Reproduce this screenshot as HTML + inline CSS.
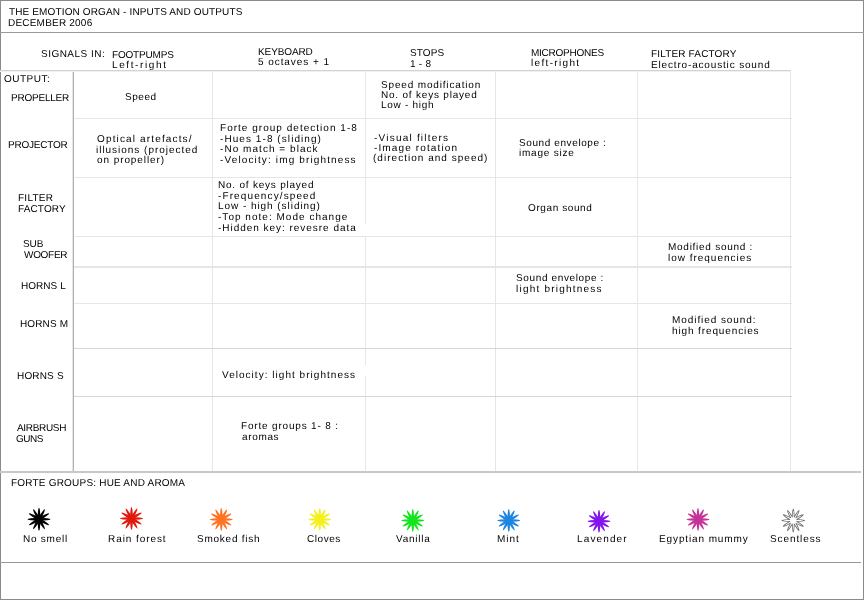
<!DOCTYPE html>
<html><head><meta charset="utf-8"><style>
html,body{margin:0;padding:0;background:#fff;width:864px;height:600px;overflow:hidden}
.l{position:absolute}
.t{position:absolute;font-family:"Liberation Sans",sans-serif;font-size:10px;line-height:12px;white-space:pre;color:#000;text-rendering:geometricPrecision;will-change:transform}
</style></head><body>
<div class="l" style="left:0px;top:0px;width:864px;height:1px;background:#8a8a8a"></div>
<div class="l" style="left:0px;top:599px;width:864px;height:1px;background:#8a8a8a"></div>
<div class="l" style="left:0px;top:0px;width:1px;height:600px;background:#8a8a8a"></div>
<div class="l" style="left:863px;top:0px;width:1px;height:600px;background:#8a8a8a"></div>
<div class="l" style="left:0px;top:32px;width:864px;height:1px;background:#999"></div>
<div class="l" style="left:0px;top:70px;width:791px;height:1px;background:#d2d2d2"></div>
<div class="l" style="left:0px;top:71px;width:791px;height:1px;background:#f0f0f0"></div>
<div class="l" style="left:0px;top:471px;width:861px;height:2px;background:#c8c8c8"></div>
<div class="l" style="left:0px;top:562px;width:861px;height:1px;background:#999"></div>
<div class="l" style="left:72px;top:72px;width:1px;height:399px;background:#e6e6e6"></div>
<div class="l" style="left:73px;top:72px;width:1px;height:399px;background:#b0b0b0"></div>
<div class="l" style="left:212px;top:72px;width:1px;height:399px;background:#e6e6e6"></div>
<div class="l" style="left:365px;top:72px;width:1px;height:399px;background:#e6e6e6"></div>
<div class="l" style="left:495px;top:72px;width:1px;height:399px;background:#e6e6e6"></div>
<div class="l" style="left:637px;top:72px;width:1px;height:399px;background:#e6e6e6"></div>
<div class="l" style="left:790px;top:72px;width:1px;height:399px;background:#e6e6e6"></div>
<div class="l" style="left:74px;top:118px;width:718px;height:1px;background:#e6e6e6"></div>
<div class="l" style="left:74px;top:177px;width:718px;height:1px;background:#e6e6e6"></div>
<div class="l" style="left:74px;top:236px;width:718px;height:1px;background:#e6e6e6"></div>
<div class="l" style="left:74px;top:266px;width:718px;height:1px;background:#e6e6e6"></div>
<div class="l" style="left:74px;top:303px;width:718px;height:1px;background:#e6e6e6"></div>
<div class="l" style="left:74px;top:267px;width:718px;height:1px;background:#e6e6e6"></div>
<div class="l" style="left:74px;top:348px;width:718px;height:1px;background:#d6d6d6"></div>
<div class="l" style="left:74px;top:396px;width:718px;height:1px;background:#d6d6d6"></div>
<div class="l" style="left:360px;top:224px;width:8px;height:12px;background:#fff"></div>
<div class="l" style="left:360px;top:365px;width:8px;height:11px;background:#fff"></div>
<div class="t" style="left:9.0px;top:7px;letter-spacing:0.135px">THE EMOTION ORGAN - INPUTS AND OUTPUTS</div>
<div class="t" style="left:8.0px;top:18px;letter-spacing:0.208px">DECEMBER 2006</div>
<div class="t" style="left:41.0px;top:49px;letter-spacing:0.475px">SIGNALS IN:</div>
<div class="t" style="left:111.5px;top:50px;letter-spacing:-0.188px">FOOTPUMPS</div>
<div class="t" style="left:111.5px;top:60px;letter-spacing:1.611px">Left-right</div>
<div class="t" style="left:257.5px;top:47px;letter-spacing:-0.107px">KEYBOARD</div>
<div class="t" style="left:257.5px;top:57px;letter-spacing:0.938px">5 octaves + 1</div>
<div class="t" style="left:409.75px;top:48px;letter-spacing:0.125px">STOPS</div>
<div class="t" style="left:409.75px;top:59px;letter-spacing:0.25px">1 - 8</div>
<div class="t" style="left:530.75px;top:48px;letter-spacing:-0.25px">MICROPHONES</div>
<div class="t" style="left:530.75px;top:58px;letter-spacing:1.333px">left-right</div>
<div class="t" style="left:650.75px;top:49px;letter-spacing:0.158px">FILTER FACTORY</div>
<div class="t" style="left:650.75px;top:60px;letter-spacing:0.836px">Electro-acoustic sound</div>
<div class="t" style="left:3.75px;top:74px;letter-spacing:0.5px">OUTPUT:</div>
<div class="t" style="left:10.75px;top:93px;letter-spacing:-0.219px">PROPELLER</div>
<div class="t" style="left:124.75px;top:92px;letter-spacing:0.562px">Speed</div>
<div class="t" style="left:380.75px;top:80px;letter-spacing:0.838px">Speed modification</div>
<div class="t" style="left:380.75px;top:90px;letter-spacing:0.794px">No. of keys played</div>
<div class="t" style="left:380.75px;top:100px;letter-spacing:0.722px">Low - high</div>
<div class="t" style="left:7.75px;top:140px;letter-spacing:-0.219px">PROJECTOR</div>
<div class="t" style="left:96.75px;top:134px;letter-spacing:1.147px">Optical artefacts/</div>
<div class="t" style="left:95.75px;top:145px;letter-spacing:0.974px">illusions (projected</div>
<div class="t" style="left:96.75px;top:155px;letter-spacing:0.917px">on propeller)</div>
<div class="t" style="left:219.75px;top:123px;letter-spacing:1.021px">Forte group detection 1-8</div>
<div class="t" style="left:219.75px;top:134px;letter-spacing:1.069px">-Hues 1-8 (sliding)</div>
<div class="t" style="left:219.75px;top:144px;letter-spacing:1.047px">-No match = black</div>
<div class="t" style="left:219.75px;top:155px;letter-spacing:1.135px">-Velocity: img brightness</div>
<div class="t" style="left:374.0px;top:133px;letter-spacing:1.214px">-Visual filters</div>
<div class="t" style="left:374.0px;top:143px;letter-spacing:1.125px">-Image rotation</div>
<div class="t" style="left:373.25px;top:153px;letter-spacing:1.025px">(direction and speed)</div>
<div class="t" style="left:519.0px;top:138px;letter-spacing:0.6px">Sound envelope :</div>
<div class="t" style="left:519.0px;top:148px;letter-spacing:0.778px">image size</div>
<div class="t" style="left:17.75px;top:193px;letter-spacing:0.25px">FILTER</div>
<div class="t" style="left:17.75px;top:204px;letter-spacing:0.125px">FACTORY</div>
<div class="t" style="left:217.75px;top:180px;letter-spacing:0.779px">No. of keys played</div>
<div class="t" style="left:217.75px;top:191px;letter-spacing:1.117px">-Frequency/speed</div>
<div class="t" style="left:217.75px;top:201px;letter-spacing:0.947px">Low - high (sliding)</div>
<div class="t" style="left:217.75px;top:212px;letter-spacing:1.024px">-Top note: Mode change</div>
<div class="t" style="left:217.75px;top:223px;letter-spacing:0.969px">-Hidden key: revesre data</div>
<div class="t" style="left:527.5px;top:203px;letter-spacing:0.6px">Organ sound</div>
<div class="t" style="left:22.75px;top:239px;letter-spacing:-0.125px">SUB</div>
<div class="t" style="left:23.75px;top:250px;letter-spacing:-0.3px">WOOFER</div>
<div class="t" style="left:667.75px;top:242px;letter-spacing:0.73px">Modified sound :</div>
<div class="t" style="left:667.75px;top:253px;letter-spacing:0.982px">low frequencies</div>
<div class="t" style="left:20.75px;top:281px;letter-spacing:0.042px">HORNS L</div>
<div class="t" style="left:516.0px;top:273px;letter-spacing:0.633px">Sound envelope :</div>
<div class="t" style="left:516.0px;top:284px;letter-spacing:1.217px">light brightness</div>
<div class="t" style="left:19.75px;top:319px;letter-spacing:0.125px">HORNS M</div>
<div class="t" style="left:671.8px;top:315px;letter-spacing:0.929px">Modified sound:</div>
<div class="t" style="left:671.8px;top:326px;letter-spacing:0.88px">high frequencies</div>
<div class="t" style="left:16.5px;top:371px;letter-spacing:0.167px">HORNS S</div>
<div class="t" style="left:221.75px;top:370px;letter-spacing:1.03px">Velocity: light brightness</div>
<div class="t" style="left:16.75px;top:423px;letter-spacing:-0.321px">AIRBRUSH</div>
<div class="t" style="left:15.75px;top:434px;letter-spacing:-0.5px">GUNS</div>
<div class="t" style="left:240.75px;top:421px;letter-spacing:0.819px">Forte groups 1- 8 :</div>
<div class="t" style="left:241.75px;top:432px;letter-spacing:0.65px">aromas</div>
<div class="t" style="left:10.75px;top:478px;letter-spacing:0.202px">FORTE GROUPS: HUE AND AROMA</div>
<div class="t" style="left:23.25px;top:534px;letter-spacing:0.75px">No smell</div>
<div class="t" style="left:107.75px;top:534px;letter-spacing:0.925px">Rain forest</div>
<div class="t" style="left:196.8px;top:534px;letter-spacing:0.76px">Smoked fish</div>
<div class="t" style="left:306.6px;top:534px;letter-spacing:0.56px">Cloves</div>
<div class="t" style="left:396.25px;top:534px;letter-spacing:0.742px">Vanilla</div>
<div class="t" style="left:496.9px;top:534px;letter-spacing:0.95px">Mint</div>
<div class="t" style="left:577.3px;top:534px;letter-spacing:1.136px">Lavender</div>
<div class="t" style="left:659.4px;top:534px;letter-spacing:0.885px">Egyptian mummy</div>
<div class="t" style="left:769.8px;top:534px;letter-spacing:0.9px">Scentless</div>
<svg class="l" style="left:0;top:0" width="864" height="600" viewBox="0 0 864 600"><g transform="translate(39,519.25)" fill="#000"><circle r="3.6"/><ellipse rx="11.6" ry="1.4" transform="rotate(0)"/><ellipse rx="11.6" ry="1.4" transform="rotate(30)"/><ellipse rx="11.6" ry="1.4" transform="rotate(60)"/><ellipse rx="11.6" ry="1.4" transform="rotate(90)"/><ellipse rx="11.6" ry="1.4" transform="rotate(120)"/><ellipse rx="11.6" ry="1.4" transform="rotate(150)"/></g><g transform="translate(131.5,518.5)" fill="#e01a0c"><circle r="3.6"/><ellipse rx="11.6" ry="1.4" transform="rotate(0)"/><ellipse rx="11.6" ry="1.4" transform="rotate(30)"/><ellipse rx="11.6" ry="1.4" transform="rotate(60)"/><ellipse rx="11.6" ry="1.4" transform="rotate(90)"/><ellipse rx="11.6" ry="1.4" transform="rotate(120)"/><ellipse rx="11.6" ry="1.4" transform="rotate(150)"/></g><g transform="translate(221.25,519.5)" fill="#ff7424"><circle r="3.6"/><ellipse rx="11.6" ry="1.4" transform="rotate(0)"/><ellipse rx="11.6" ry="1.4" transform="rotate(30)"/><ellipse rx="11.6" ry="1.4" transform="rotate(60)"/><ellipse rx="11.6" ry="1.4" transform="rotate(90)"/><ellipse rx="11.6" ry="1.4" transform="rotate(120)"/><ellipse rx="11.6" ry="1.4" transform="rotate(150)"/></g><g transform="translate(319.75,519.5)" fill="#f4f01c"><circle r="3.6"/><ellipse rx="11.6" ry="1.4" transform="rotate(0)"/><ellipse rx="11.6" ry="1.4" transform="rotate(30)"/><ellipse rx="11.6" ry="1.4" transform="rotate(60)"/><ellipse rx="11.6" ry="1.4" transform="rotate(90)"/><ellipse rx="11.6" ry="1.4" transform="rotate(120)"/><ellipse rx="11.6" ry="1.4" transform="rotate(150)"/></g><g transform="translate(412.75,520.5)" fill="#14e41c"><circle r="3.6"/><ellipse rx="11.6" ry="1.4" transform="rotate(0)"/><ellipse rx="11.6" ry="1.4" transform="rotate(30)"/><ellipse rx="11.6" ry="1.4" transform="rotate(60)"/><ellipse rx="11.6" ry="1.4" transform="rotate(90)"/><ellipse rx="11.6" ry="1.4" transform="rotate(120)"/><ellipse rx="11.6" ry="1.4" transform="rotate(150)"/></g><g transform="translate(508.75,520.5)" fill="#1e86e0"><circle r="3.6"/><ellipse rx="11.6" ry="1.4" transform="rotate(0)"/><ellipse rx="11.6" ry="1.4" transform="rotate(30)"/><ellipse rx="11.6" ry="1.4" transform="rotate(60)"/><ellipse rx="11.6" ry="1.4" transform="rotate(90)"/><ellipse rx="11.6" ry="1.4" transform="rotate(120)"/><ellipse rx="11.6" ry="1.4" transform="rotate(150)"/></g><g transform="translate(599,521.25)" fill="#8414ec"><circle r="3.6"/><ellipse rx="11.6" ry="1.4" transform="rotate(0)"/><ellipse rx="11.6" ry="1.4" transform="rotate(30)"/><ellipse rx="11.6" ry="1.4" transform="rotate(60)"/><ellipse rx="11.6" ry="1.4" transform="rotate(90)"/><ellipse rx="11.6" ry="1.4" transform="rotate(120)"/><ellipse rx="11.6" ry="1.4" transform="rotate(150)"/></g><g transform="translate(698,519.5)" fill="#c43498"><circle r="3.6"/><ellipse rx="11.6" ry="1.4" transform="rotate(0)"/><ellipse rx="11.6" ry="1.4" transform="rotate(30)"/><ellipse rx="11.6" ry="1.4" transform="rotate(60)"/><ellipse rx="11.6" ry="1.4" transform="rotate(90)"/><ellipse rx="11.6" ry="1.4" transform="rotate(120)"/><ellipse rx="11.6" ry="1.4" transform="rotate(150)"/></g><g transform="translate(793.25,520.5)"><circle r="4.2" fill="#6a6a6a"/><ellipse rx="12" ry="1.5" fill="#6a6a6a" transform="rotate(0)"/><ellipse rx="12" ry="1.5" fill="#6a6a6a" transform="rotate(30)"/><ellipse rx="12" ry="1.5" fill="#6a6a6a" transform="rotate(60)"/><ellipse rx="12" ry="1.5" fill="#6a6a6a" transform="rotate(90)"/><ellipse rx="12" ry="1.5" fill="#6a6a6a" transform="rotate(120)"/><ellipse rx="12" ry="1.5" fill="#6a6a6a" transform="rotate(150)"/><circle r="3.2" fill="#fff"/><ellipse rx="10" ry="0.6" fill="#fff" transform="rotate(0)"/><ellipse rx="10" ry="0.6" fill="#fff" transform="rotate(30)"/><ellipse rx="10" ry="0.6" fill="#fff" transform="rotate(60)"/><ellipse rx="10" ry="0.6" fill="#fff" transform="rotate(90)"/><ellipse rx="10" ry="0.6" fill="#fff" transform="rotate(120)"/><ellipse rx="10" ry="0.6" fill="#fff" transform="rotate(150)"/></g></svg>
</body></html>
